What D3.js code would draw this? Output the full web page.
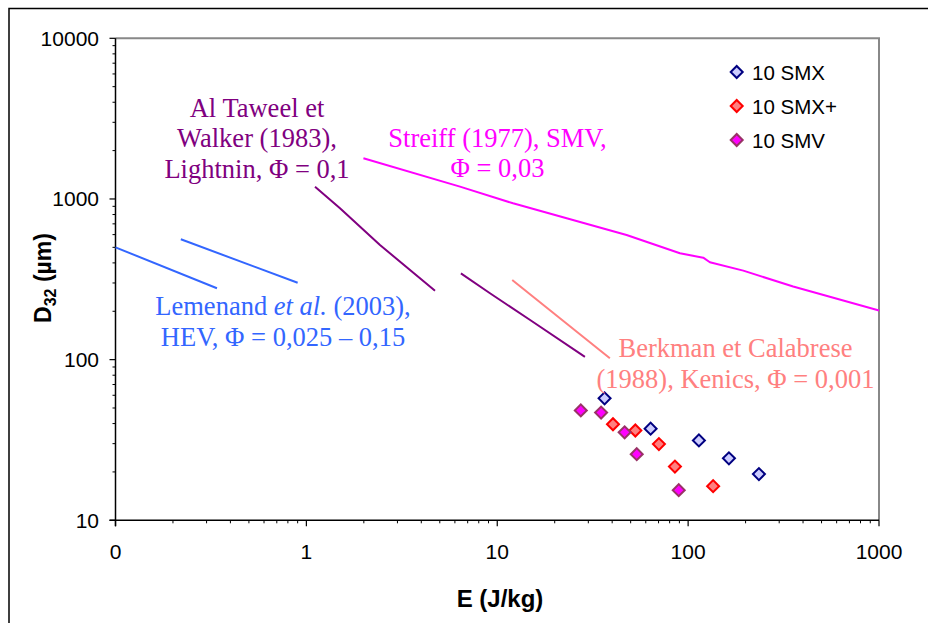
<!DOCTYPE html>
<html>
<head>
<meta charset="utf-8">
<script src="https://cdn.jsdelivr.net/npm/d3@7/dist/d3.min.js"></script>
<style>
  html, body { margin: 0; padding: 0; background: #fff; }
  svg { display: block; }
</style>
</head>
<body>
<svg id="chart" width="928" height="623"></svg>
<script>
// ---------- DATA ----------
const xTickValues = [0.1, 1, 10, 100, 1000];
const xTickLabels = ["0", "1", "10", "100", "1000"];
const yTickValues = [10, 100, 1000, 10000];
const yTickLabels = ["10", "100", "1000", "10000"];

// Correlation curves (E in J/kg, D32 in µm)
const lemenand1E = [0.1, 0.34];
const lemenand1D = [500, 278];
const lemenand2E = [0.22, 0.9];
const lemenand2D = [561, 301];
const taweel1E = [1.11, 1.5, 2.43, 4.72];
const taweel1D = [1193, 875, 517, 268];
const taweel2E = [6.45, 9.16, 14.8, 28.8];
const taweel2D = [344, 259, 177, 104];
const streiffE = [1.99, 6.38, 12.1, 23.1, 47.6, 90.6, 120, 130, 194.5, 355, 1000];
const streiffD = [1791, 1193, 940, 758, 597, 459, 431, 404, 358, 285, 202];
const berkmanE = [11.98, 21.3, 38.9];
const berkmanD = [313, 181, 102];

// Experimental points
const smxE = [36.5, 63.6, 113.9, 163.6, 234.9];
const smxD = [57.4, 37.2, 31.4, 24.3, 19.4];
const smxPlusE = [40.4, 52.9, 70.3, 85.3, 135.2];
const smxPlusD = [39.6, 36.2, 29.8, 21.6, 16.3];
const smvE = [27.4, 35.0, 46.5, 53.8, 89.3];
const smvD = [48.3, 46.8, 35.3, 25.8, 15.4];

const legendNames = ["10 SMX", "10 SMX+", "10 SMV"];

// ---------- LAYOUT ----------
const svg = d3.select("#chart");
const L = 115.5, R = 879, T = 38.3, B = 520.3;
const x = d3.scaleLog().domain([0.1, 1000]).range([L, R]);
const y = d3.scaleLog().domain([10, 10000]).range([B, T]);

// outer frame
svg.append("rect").attr("x", 9).attr("y", 8.5).attr("width", 1000).attr("height", 700)
  .attr("fill", "none").attr("stroke", "#000").attr("stroke-width", 1.5);

// plot area border (grey top & right)
svg.append("path")
  .attr("d", `M${L},${T}H${R}V${B}`)
  .attr("fill", "none").attr("stroke", "#888").attr("stroke-width", 2);

// ---------- AXES ----------
const minorX = [], minorY = [];
for (let dec = 0.1; dec < 1000; dec *= 10) for (let k = 2; k <= 9; k++) minorX.push(dec * k);
for (let dec = 10; dec < 10000; dec *= 10) for (let k = 2; k <= 9; k++) minorY.push(dec * k);

const xAxis = svg.append("g");
xAxis.selectAll(".minor").data(minorX).join("line")
  .attr("x1", d => x(d)).attr("x2", d => x(d)).attr("y1", B).attr("y2", B + 3)
  .attr("stroke", "#000").attr("stroke-width", 1);
xAxis.selectAll(".major").data(xTickValues).join("line")
  .attr("x1", d => x(d)).attr("x2", d => x(d)).attr("y1", B).attr("y2", B + 6)
  .attr("stroke", "#000").attr("stroke-width", 1.2);
xAxis.append("line").attr("x1", L - 6).attr("x2", R).attr("y1", B).attr("y2", B)
  .attr("stroke", "#000").attr("stroke-width", 1.5);
xAxis.selectAll("text").data(xTickValues).join("text")
  .attr("x", d => x(d)).attr("y", 559)
  .attr("text-anchor", "middle")
  .attr("font-family", "Liberation Sans, Arial, sans-serif").attr("font-size", 21)
  .text((d, i) => xTickLabels[i]);

const yAxis = svg.append("g");
yAxis.selectAll(".minor").data(minorY).join("line")
  .attr("y1", d => y(d)).attr("y2", d => y(d)).attr("x1", L - 3).attr("x2", L)
  .attr("stroke", "#000").attr("stroke-width", 1);
yAxis.selectAll(".major").data(yTickValues).join("line")
  .attr("y1", d => y(d)).attr("y2", d => y(d)).attr("x1", L - 6).attr("x2", L)
  .attr("stroke", "#000").attr("stroke-width", 1.2);
yAxis.append("line").attr("x1", L).attr("x2", L).attr("y1", T).attr("y2", B + 6)
  .attr("stroke", "#000").attr("stroke-width", 1.5);
yAxis.selectAll("text").data(yTickValues).join("text")
  .attr("x", 99).attr("y", d => y(d) + 7.5)
  .attr("text-anchor", "end")
  .attr("font-family", "Liberation Sans, Arial, sans-serif").attr("font-size", 21)
  .text((d, i) => yTickLabels[i]);

// axis titles
svg.append("text").attr("x", 500).attr("y", 607)
  .attr("text-anchor", "middle")
  .attr("font-family", "Liberation Sans, Arial, sans-serif").attr("font-size", 24).attr("font-weight", "bold")
  .text("E (J/kg)");
const yt = svg.append("text")
  .attr("transform", "translate(51,278) rotate(-90)")
  .attr("text-anchor", "middle")
  .attr("font-family", "Liberation Sans, Arial, sans-serif").attr("font-size", 23).attr("font-weight", "bold");
yt.append("tspan").text("D");
yt.append("tspan").attr("font-size", 16).attr("dy", 5).text("32");
yt.append("tspan").attr("dy", -5).text(" (µm)");

// ---------- LINES ----------
const line = d3.line().x(d => x(d[0])).y(d => y(d[1]));
function drawLine(es, ds, color) {
  svg.append("path").datum(es.map((e, i) => [e, ds[i]]))
    .attr("d", line).attr("fill", "none").attr("stroke", color)
    .attr("stroke-width", 2).attr("stroke-linejoin", "round");
}
drawLine(lemenand1E, lemenand1D, "#3366FF");
drawLine(lemenand2E, lemenand2D, "#3366FF");
drawLine(taweel1E, taweel1D, "#800080");
drawLine(taweel2E, taweel2D, "#800080");
drawLine(streiffE, streiffD, "#FF00FF");
drawLine(berkmanE, berkmanD, "#FF8080");

// ---------- POINTS ----------
const diamond = d3.symbol().type(d3.symbolSquare).size(72);
function drawPoints(es, ds, fill, stroke) {
  svg.append("g").selectAll("path").data(es.map((e, i) => [e, ds[i]])).join("path")
    .attr("d", diamond)
    .attr("transform", d => `translate(${x(d[0])},${y(d[1])}) rotate(45)`)
    .attr("fill", fill).attr("stroke", stroke).attr("stroke-width", 2);
}
const seriesStyles = [
  { fill: "#CCCCFF", stroke: "#000080" },
  { fill: "#FF8080", stroke: "#FF0000" },
  { fill: "#FF00FF", stroke: "#993366" }
];
drawPoints(smxE, smxD, seriesStyles[0].fill, seriesStyles[0].stroke);
drawPoints(smxPlusE, smxPlusD, seriesStyles[1].fill, seriesStyles[1].stroke);
drawPoints(smvE, smvD, seriesStyles[2].fill, seriesStyles[2].stroke);

// ---------- LEGEND ----------
legendNames.forEach((name, i) => {
  const cy = 72 + i * 34;
  svg.append("path").attr("d", diamond)
    .attr("transform", `translate(736.7,${cy}) rotate(45)`)
    .attr("fill", seriesStyles[i].fill).attr("stroke", seriesStyles[i].stroke).attr("stroke-width", 2);
  svg.append("text").attr("x", 752).attr("y", cy + 7.5)
    .attr("font-family", "Liberation Sans, Arial, sans-serif").attr("font-size", 20.5)
    .text(name);
});

// ---------- ANNOTATIONS ----------
const serif = "Liberation Serif, Times New Roman, serif";
function annot(lines, cx, y0, color) {
  lines.forEach((ln, i) => {
    const t = svg.append("text").attr("x", cx).attr("y", y0 + i * 30.8)
      .attr("text-anchor", "middle").attr("font-family", serif)
      .attr("font-size", 26.5).attr("fill", color);
    ln.forEach(part => {
      const s = t.append("tspan").text(part.t);
      if (part.i) s.attr("font-style", "italic");
    });
  });
}
annot([[{ t: "Al Taweel et" }], [{ t: "Walker (1983)," }], [{ t: "Lightnin, Φ = 0,1" }]], 257, 116.5, "#800080");
annot([[{ t: "Streiff (1977), SMV," }], [{ t: "Φ = 0,03" }]], 497.5, 146.5, "#FF00FF");
annot([[{ t: "Lemenand " }, { t: "et al.", i: true }, { t: " (2003)," }], [{ t: "HEV, Φ = 0,025 – 0,15" }]], 283, 315, "#3366FF");
annot([[{ t: "Berkman et Calabrese" }], [{ t: "(1988), Kenics, Φ = 0,001" }]], 735.5, 357, "#FF8080");
</script>
</body>
</html>
